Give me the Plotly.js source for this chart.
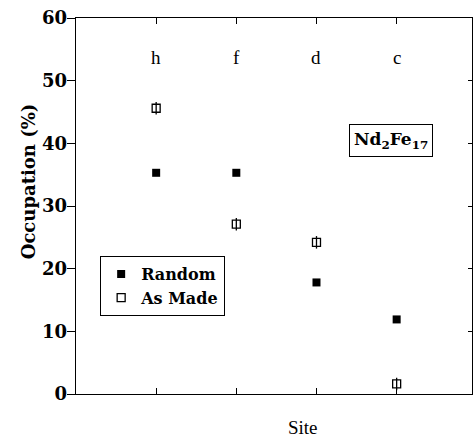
<!DOCTYPE html>
<html>
<head>
<meta charset="utf-8">
<script src="https://cdn.plot.ly/plotly-3.0.1.min.js"></script>
<style>
html,body{margin:0;padding:0;background:#fff;}
#chart{width:473px;height:438px;}
</style>
</head>
<body>
<div id="chart"></div>
<script>
const sites = ['h', 'f', 'd', 'c'];
const sitePos = [1, 2, 3, 4];
const randomVals = [35.3, 35.3, 17.8, 11.9];
const asMadeVals = [45.6, 27.1, 24.2, 1.6];
const asMadeBar = [1.0, 1.0, 1.0, 1.0];
const yTicks = [0, 10, 20, 30, 40, 50, 60];

const FONT = 'DejaVu Serif';
const FONT2 = 'Liberation Serif';

const traces = [
  {
    x: sitePos, y: randomVals, name: 'Random', type: 'scatter', mode: 'markers',
    marker: {symbol: 'square', size: 8, color: '#000'}
  },
  {
    x: sitePos, y: asMadeVals, name: 'As Made', type: 'scatter', mode: 'markers',
    marker: {symbol: 'square-open', size: 8, color: '#000', line: {width: 1.3, color: '#000'}},
    error_y: {type: 'data', array: asMadeBar, visible: true, width: 0, thickness: 1.3, color: '#000'}
  },
  {
    x: [], y: [], yaxis: 'y2', showlegend: false, hoverinfo: 'skip', type: 'scatter'
  }
];

const annotations = sites.map((s, i) => ({
  x: sitePos[i], y: 53.7, xref: 'x', yref: 'y', text: s, showarrow: false,
  xanchor: 'center', yanchor: 'middle',
  font: {family: FONT2, size: 19, color: '#000'}
}));
annotations.push({
  x: 3.925, y: 40.5, xref: 'x', yref: 'y', text: 'Nd<sub>2</sub>Fe<sub>17</sub>', showarrow: false,
  xanchor: 'center', yanchor: 'middle',
  font: {family: FONT, size: 17, color: '#000', weight: 'bold'},
  bordercolor: '#000', borderwidth: 1, borderpad: 4, bgcolor: '#fff'
});
annotations.push({
  x: 0.573, y: -0.088, xref: 'paper', yref: 'paper', text: 'Site', showarrow: false,
  xanchor: 'center', yanchor: 'middle',
  font: {family: FONT2, size: 19, color: '#000'}
});
annotations.push({
  x: -0.121, y: 0.566, xref: 'paper', yref: 'paper', text: 'Occupation (%)', showarrow: false,
  xanchor: 'center', yanchor: 'middle',
  textangle: -90, font: {family: FONT, size: 18, color: '#000', weight: 'bold'}
});

const layout = {
  width: 473, height: 438,
  margin: {l: 76, r: 1, t: 18, b: 44},
  paper_bgcolor: '#fff', plot_bgcolor: '#fff',
  showlegend: true,
  legend: {
    x: 0.061, y: 0.367, xanchor: 'left', yanchor: 'top',
    bgcolor: '#fff', bordercolor: '#000', borderwidth: 1,
    font: {family: FONT, size: 16, color: '#000', weight: 'bold'}
  },
  xaxis: {
    range: [0, 4.94], tickmode: 'array', tickvals: sitePos, ticktext: sitePos.map(() => ''),
    ticks: 'inside', ticklen: 6, tickwidth: 1, tickcolor: '#000',
    showline: true, linecolor: '#000', linewidth: 1.3, mirror: 'ticks',
    showgrid: false, zeroline: false, fixedrange: true
  },
  yaxis: {
    range: [0, 60], tickmode: 'array', tickvals: yTicks,
    ticks: 'outside', ticklen: 8, tickwidth: 1, tickcolor: '#000',
    ticklabelstandoff: -4,
    showline: true, linecolor: '#000', linewidth: 1.3,
    showgrid: false, zeroline: false, fixedrange: true,
    tickfont: {family: FONT, size: 18, color: '#000', weight: 'bold'}
  },
  yaxis2: {
    range: [0, 60], overlaying: 'y', side: 'right', tickmode: 'array', tickvals: yTicks,
    ticks: 'inside', ticklen: 4, tickwidth: 1, tickcolor: '#000', showticklabels: false,
    showline: true, linecolor: '#000', linewidth: 1,
    showgrid: false, zeroline: false, fixedrange: true
  },
  annotations: annotations
};

Plotly.newPlot('chart', traces, layout, {displayModeBar: false, staticPlot: true});
</script>
</body>
</html>
